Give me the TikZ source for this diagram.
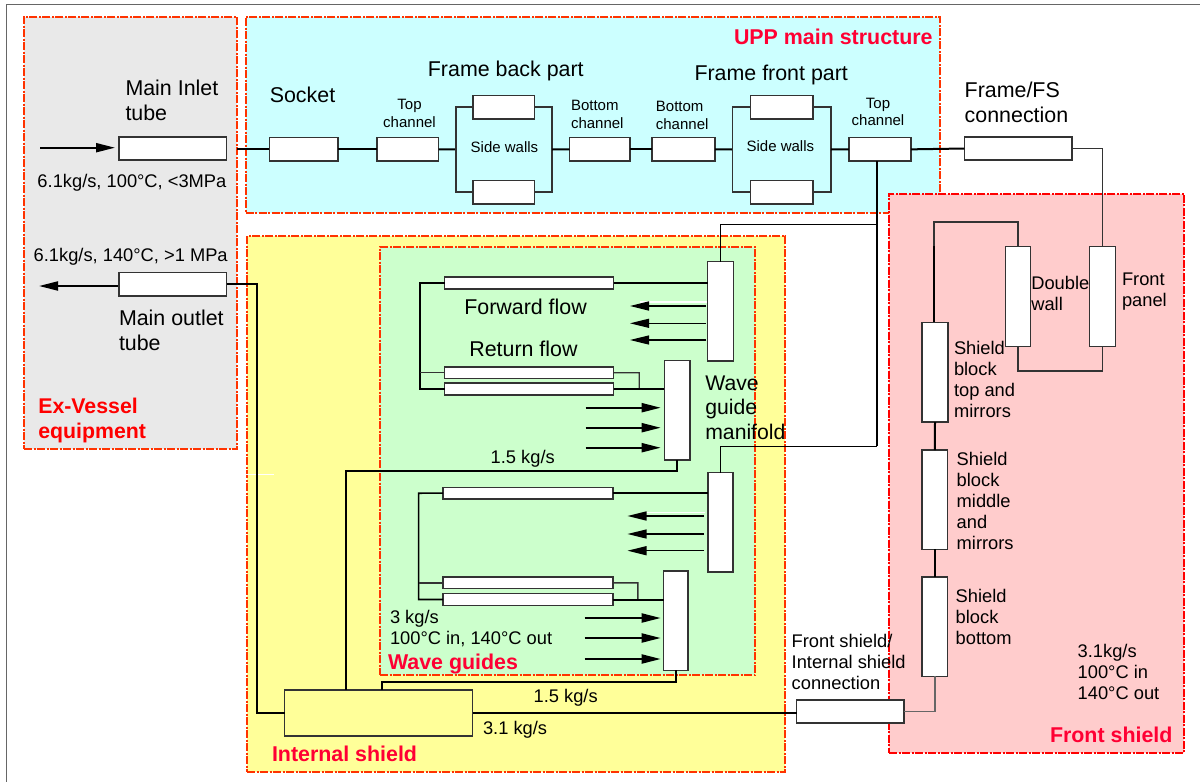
\documentclass[tikz,border=0pt]{standalone}
\usepackage{fontspec}
\setmainfont{Liberation Sans}
\usetikzlibrary{arrows.meta,calc}
\definecolor{exvfill}{HTML}{E9E9E9}
\definecolor{uppfill}{HTML}{CCFFFF}
\definecolor{isfill}{HTML}{FFFF99}
\definecolor{wgfill}{HTML}{CCFFCC}
\definecolor{fsfill}{HTML}{FFCCCC}
\definecolor{bord}{HTML}{FF3300}
\definecolor{labred}{HTML}{FF0033}
\definecolor{boxline}{HTML}{333333}
\definecolor{frameline}{HTML}{666666}
\tikzset{
  region/.style={rectangle,inner sep=0,outer sep=0,draw=bord,line width=1.6pt,dash pattern=on 8pt off 1.5pt on 2pt off 1.5pt},
  part/.style={rectangle,inner sep=0,outer sep=0,draw=boxline,line width=1.5pt,fill=white},
  pipe/.style={draw=black,line width=2pt},
  thinpipe/.style={draw=boxline,line width=1.4pt},
  flow/.style={draw=black,line width=2pt,-{Triangle[length=19pt,width=9pt]}},
  big/.style={inner sep=0,outer sep=0,anchor=north west,align=left,font=\fontsize{21.4}{25}\selectfont},
  mid/.style={inner sep=0,outer sep=0,anchor=north west,align=left,font=\fontsize{18.3}{21}\selectfont},
  small/.style={inner sep=0,outer sep=0,anchor=north west,align=left,font=\fontsize{15}{17.7}\selectfont},
  smallc/.style={small,anchor=north,align=center},
  redlab/.style={inner sep=0,outer sep=0,anchor=north west,align=left,text=labred,font=\bfseries\fontsize{21.4}{25}\selectfont},
}
\newcommand{\boxn}[6]{\node[#2,minimum width={(#5-#3)*1pt},minimum height={(#6-#4)*1pt}] (#1) at ({(#3+#5)/2},{(#4+#6)/2}) {};}
\begin{document}
\begin{tikzpicture}[x=1pt,y=-1pt]
\useasboundingbox (0,0) rectangle (1200,782);
\fill[white] (0,0) rectangle (1200,782);
\coordinate (fa) at (6.5,782); \coordinate (fb) at (6.5,4.7); \coordinate (fc) at (1200,4.7);
\draw[frameline,line width=1.2pt] (fa) -- (fb) -- (fc);
% regions
\boxn{exv}{region,fill=exvfill}{24}{16.7}{237}{449}
\boxn{upp}{region,fill=uppfill}{245.7}{16.7}{940}{212.7}
\boxn{ins}{region,fill=isfill}{247}{236}{785}{772}
\boxn{wg}{region,fill=wgfill}{380}{247}{755}{675}
\boxn{fsh}{region,fill=fsfill,draw=red}{889}{193.7}{1184}{752.7}
% stray white line
\coordinate (wa) at (150,474.7); \coordinate (wb) at (274,474.7);
\draw[white,line width=1pt] (wa) -- (wb);
% parts
\boxn{inlet}{part}{119}{137}{226.5}{160}
\boxn{outlet}{part}{119}{272.5}{226.5}{296}
\boxn{socket}{part}{269.4}{137.7}{338}{161}
\boxn{tc1}{part}{377}{137.7}{438.6}{161}
\boxn{st1}{part}{473}{95.3}{534.6}{119}
\boxn{sb1}{part}{473}{180.3}{534.6}{204}
\boxn{bc1}{part}{569.5}{137.7}{630}{161}
\boxn{bc2}{part}{652}{137.7}{715}{161}
\boxn{st2}{part}{750.4}{95.3}{812.8}{119}
\boxn{sb2}{part}{750.4}{180.3}{812.8}{204}
\boxn{tc2}{part}{848.8}{137.7}{911}{161}
\boxn{fsc}{part}{964.3}{137}{1072}{160}
\boxn{fp}{part}{1089.7}{246.7}{1115.3}{346.7}
\boxn{dw}{part}{1005.3}{246.7}{1030.7}{346.7}
\boxn{sbt}{part}{922}{322.3}{948}{422}
\boxn{sbm}{part}{922}{450}{947.7}{549.3}
\boxn{sbb}{part}{922}{577}{947.7}{676.3}
\boxn{conn}{part}{796.7}{700}{904}{723}
\boxn{isb}{part,fill=isfill}{284.6}{690}{472.5}{736}
\boxn{m1}{part}{707.7}{261.7}{733.3}{361}
\boxn{mr1}{part}{664.3}{360.3}{690}{460}
\boxn{f1}{part}{444.7}{277}{613.7}{289}
\boxn{ra1}{part}{444.7}{367}{613.7}{378.3}
\boxn{rb1}{part}{444.7}{383}{613.7}{395}
\boxn{m2}{part}{707.9}{472.7}{733.2}{572}
\boxn{mr2}{part}{663.6}{571}{688.2}{670.3}
\boxn{f2}{part}{443.2}{487.3}{612.9}{499}
\boxn{ra2}{part}{443.2}{577}{612.9}{588.7}
\boxn{rb2}{part}{443.2}{593.7}{612.9}{605.3}
% junction coordinates
\coordinate (b1l) at (455.8,149.5); \coordinate (b1r) at (552,149.5);
\coordinate (b2l) at (732.4,149.5); \coordinate (b2r) at (830.8,149.5);
\coordinate (c1) at (419.7,283); \coordinate (c2) at (418.6,493.2);
\coordinate (d1) at (639.3,372.7); \coordinate (d2) at (637.9,582.9);
\coordinate (j1) at (876.7,224.3); \coordinate (j2) at (876.7,446.3);
\coordinate (o1) at (256.8,400);
\coordinate (k1) at (346,690); \coordinate (k1u) at (346,470.7);
\coordinate (k2) at (381.8,690); \coordinate (k2u) at (381.8,682);
\coordinate (lo) at (1018,371); \coordinate (lt) at (934,222); \coordinate (lm) at (934,246);
% arrows: inlet/outlet
\coordinate (ia) at (40,147.7); \coordinate (ib) at (115,147.7);
\draw[flow] (ia) -- (ib);
\coordinate (oa) at (117.5,286); \coordinate (ob) at (39,286);
\draw[flow] (oa) -- (ob);
% UPP chain
\draw[pipe] (exv.east |- socket.west) -- (socket.west);
\draw[pipe] (socket.east) -- (tc1.west);
\draw[pipe] (tc1.east) -- (b1l);
\draw[thinpipe] (st1.west) -| (b1l) |- (sb1.west);
\draw[thinpipe] (st1.east) -| (b1r) |- (sb1.east);
\draw[pipe] (b1r) -- (bc1.west);
\draw[pipe] (bc1.east) -- (bc2.west);
\draw[pipe] (bc2.east) -- (b2l);
\draw[thinpipe] (st2.west) -| (b2l) |- (sb2.west);
\draw[thinpipe] (st2.east) -| (b2r) |- (sb2.east);
\draw[pipe] (b2r) -- (tc2.west);
\draw[pipe] (tc2.east) -- (fsc.west);
\draw[thinpipe] (fsc.east) -| (fp.north);
% trunk
\draw[pipe] (j2 |- tc2.south) -- (j2);
\draw[thinpipe,draw=black] (j1) -| (m1.north);
\draw[thinpipe,draw=black] (j2) -| (m2.north);
% front shield
\draw[thinpipe] (dw.south) -- (lo) -| (fp.south);
\draw[thinpipe] (dw.north) |- (lt) -- (lm);
\draw[pipe] (lm) -- (lm |- sbt.north);
\draw[pipe] (sbt.south) -- (sbm.north);
\draw[pipe] (sbm.south) -- (sbb.north);
\draw[frameline,line width=1.4pt] (sbb.south) |- (conn.east);
% wave guides, upper
\draw[pipe] (f1.east) -- (f1.east -| m1.west);
\draw[pipe,line width=1.6pt] (f1.west) -- (c1) -- (c1 |- rb1.west) -- (rb1.west);
\draw[thinpipe,line width=1.1pt] (ra1.west) -- (c1 |- ra1.west);
\draw[thinpipe,line width=1.2pt] (ra1.east) -- (d1) -- (d1 |- rb1.east);
\draw[pipe] (rb1.east) -- (rb1.east -| mr1.west);
% wave guides, lower
\draw[pipe] (f2.east) -- (f2.east -| m2.west);
\draw[pipe,line width=1.6pt] (f2.west) -- (c2) -- (c2 |- rb2.west) -- (rb2.west);
\draw[thinpipe] (ra2.west) -- (c2 |- ra2.west);
\draw[thinpipe] (ra2.east) -- (d2) -- (d2 |- rb2.east);
\draw[pipe] (rb2.east) -- (rb2.east -| mr2.west);
% returns to internal shield
\draw[pipe] (mr1.south) |- (k1u) -- (k1);
\draw[pipe] (mr2.south) |- (k2u) -- (k2);
\draw[pipe] (outlet.east) -| (o1) |- (isb.west);
\draw[pipe] (isb.east) -- (conn.west |- isb.east);
% white highlights
\coordinate (w1a) at (640,302); \coordinate (w1b) at (707,302);
\coordinate (w2a) at (643.6,512.7); \coordinate (w2b) at (705,512.7);
\draw[white,line width=1.2pt] (w1a) -- (w1b);
\draw[white,line width=1.2pt] (w2a) -- (w2b);
% flow arrows
\foreach \n/\y/\lw in {a/306/1.6,b/323.3/1.2,c/340/1.2}{
  \coordinate (u\n s) at (706,\y); \coordinate (u\n e) at (630,\y);
  \draw[flow,line width=\lw pt] (u\n s) -- (u\n e);}
\foreach \n/\y in {a/407.7,b/427.7,c/447.7}{
  \coordinate (v\n s) at (585.7,\y); \coordinate (v\n e) at (660.7,\y);
  \draw[flow] (v\n s) -- (v\n e);}
\foreach \n/\y/\lw in {a/516/1.6,b/534/1.2,c/550.7/1.2}{
  \coordinate (x\n s) at (704,\y); \coordinate (x\n e) at (627.5,\y);
  \draw[flow,line width=\lw pt] (x\n s) -- (x\n e);}
\foreach \n/\y in {a/618,b/638,c/659}{
  \coordinate (z\n s) at (584.6,\y); \coordinate (z\n e) at (660.7,\y);
  \draw[flow] (z\n s) -- (z\n e);}
% texts
\node[big] (t1) at (125.5,80) {Main Inlet\\tube};
\node[mid] (t2) at (37.5,174) {6.1kg/s, 100°C, <3MPa};
\node[mid] (t3) at (33.7,248) {6.1kg/s, 140°C, >1 MPa};
\node[big] (t4) at (119,310) {Main outlet\\tube};
\node[redlab,text=red,font=\bfseries\fontsize{21.3}{25}\selectfont] (t5) at (38.3,398) {Ex-Vessel\\equipment};
\node[big] (t6) at (269.8,87) {Socket};
\node[smallc] (t7) at (409.5,99) {Top\\channel};
\node[big] (t8) at (427.9,61) {Frame back part};
\node[small] (t9) at (470.7,141.7) {Side walls};
\node[small] (t10) at (571,100) {Bottom\\channel};
\node[small] (t11) at (655.9,101) {Bottom\\channel};
\node[big] (t12) at (694.5,65) {Frame front part};
\node[small] (t13) at (746.6,140.7) {Side walls};
\node[smallc] (t14) at (878,97.7) {Top\\channel};
\node[redlab,anchor=north east] (t15) at (932.6,28.7) {UPP main structure};
\node[big] (t16) at (964.7,81.7) {Frame/FS\\connection};
\node[big] (t17) at (464.3,298.7) {Forward flow};
\node[big] (t18) at (469.3,340.7) {Return flow};
\node[big,font=\fontsize{21.2}{24.4}\selectfont] (t19) at (705.3,376) {Wave\\guide\\manifold};
\node[mid] (t20) at (490.7,450) {1.5 kg/s};
\node[mid] (t21) at (390,610.7) {3 kg/s\\100°C in, 140°C out};
\node[redlab] (t22) at (388,654) {Wave guides};
\node[mid] (t23) at (533.6,689) {1.5 kg/s};
\node[mid] (t24) at (483,721) {3.1 kg/s};
\node[redlab] (t25) at (272,746) {Internal shield};
\node[mid] (t26) at (791.7,634) {Front shield/\\Internal shield\\connection};
\node[mid] (t27) at (955.7,589) {Shield\\block\\bottom};
\node[mid] (t28) at (956.7,452.7) {Shield\\block\\middle\\and\\mirrors};
\node[mid] (t29) at (954,341.7) {Shield\\block\\top and\\mirrors};
\node[mid] (t30) at (1031.3,276) {Double\\wall};
\node[mid] (t31) at (1122,273.3) {Front\\panel};
\node[mid] (t32) at (1077.7,644) {3.1kg/s\\100°C in\\140°C out};
\node[redlab] (t33) at (1050,726.7) {Front shield};
\end{tikzpicture}
\end{document}
